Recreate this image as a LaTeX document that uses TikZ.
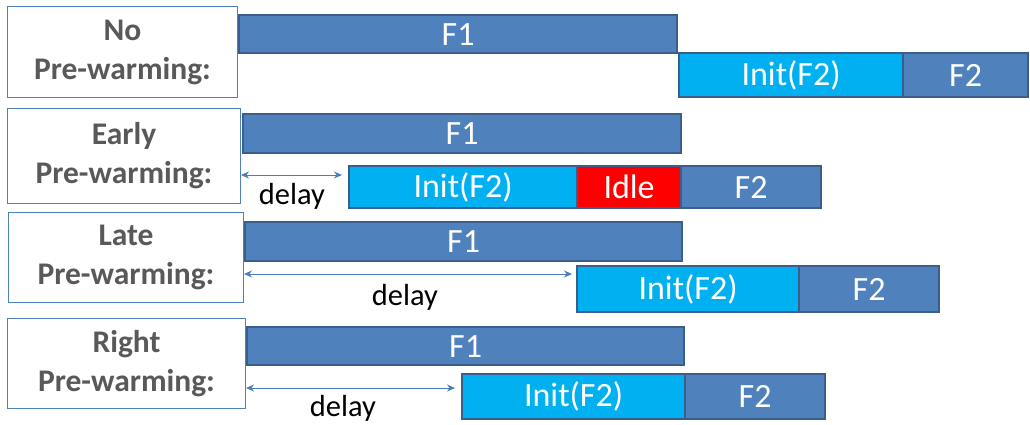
\documentclass[tikz,border=0pt]{standalone}
\usepackage{fontspec}
\setmainfont{Carlito}
\usetikzlibrary{arrows.meta}
\definecolor{barblue}{HTML}{4F81BD}
\definecolor{baredge}{HTML}{3A5F8B}
\definecolor{initcyan}{HTML}{00B0F0}
\definecolor{idlered}{HTML}{FF0000}
\definecolor{lblgray}{HTML}{595959}
\definecolor{lbledge}{HTML}{4F81BD}
\definecolor{arrblue}{HTML}{4A7EBB}
\tikzset{
  lbl/.style={draw=lbledge, line width=1pt, fill=white, anchor=north west, align=center,
    text=lblgray, font=\fontsize{31.5}{39}\selectfont\bfseries, inner sep=0pt},
  bar/.style={draw=baredge, line width=2.2pt, anchor=north west, text=white,
    font=\fontsize{34}{36}\selectfont, inner sep=0pt},
  f/.style={bar, fill=barblue},
  init/.style={bar, fill=initcyan},
  idle/.style={bar, fill=idlered},
  dly/.style={draw=arrblue, line width=0.9pt, {Stealth[length=8pt,width=7pt]}-{Stealth[length=8pt,width=7pt]}},
  dtext/.style={font=\fontsize{30.5}{33}\selectfont, text=black, inner sep=0pt}
}
\begin{document}
\begin{tikzpicture}[x=1pt,y=-1pt]
\useasboundingbox (0,0) rectangle (1030,424);
% Row 1
\node[lbl, minimum width=230pt, minimum height=91pt] (l1) at (7,6) {No\\Pre-warming:};
\node[f, minimum width=438pt, minimum height=38pt] (f1a) at (238,14) {F1};
\node[init, minimum width=224pt, minimum height=44pt] (i1) at (678,52) {Init(F2)};
\node[f, minimum width=125pt, minimum height=44pt] (f2a) at (902,52) {F2};
% Row 2
\node[lbl, minimum width=233pt, minimum height=95pt] (l2) at (7,108) {Early\\Pre-warming:};
\node[f, minimum width=438pt, minimum height=39pt] (f1b) at (242,113) {F1};
\node[init, minimum width=228pt, minimum height=42pt] (i2) at (348,165) {Init(F2)};
\node[idle, minimum width=104pt, minimum height=42pt] (d2) at (576,165) {Idle};
\node[f, minimum width=140pt, minimum height=42pt] (f2b) at (680,165) {F2};
\coordinate (a2) at (241,175);
\draw[dly, shorten >=6pt] (a2) -- (i2.west |- a2);
\node[dtext] (t2) at (292,196) {delay};
% Row 3
\node[lbl, minimum width=235pt, minimum height=90pt] (l3) at (8,212) {Late\\Pre-warming:};
\node[f, minimum width=437pt, minimum height=39pt] (f1c) at (244,221) {F1};
\node[init, minimum width=222pt, minimum height=46pt] (i3) at (576,265) {Init(F2)};
\node[f, minimum width=140pt, minimum height=46pt] (f2c) at (798,265) {F2};
\coordinate (a3) at (244,274);
\draw[dly, shorten >=4pt] (a3) -- (i3.west |- a3);
\node[dtext] (t3) at (405,297) {delay};
% Row 4
\node[lbl, minimum width=238pt, minimum height=90pt] (l4) at (7,318) {Right\\Pre-warming:};
\node[f, minimum width=437pt, minimum height=38pt] (f1d) at (246,326) {F1};
\node[init, minimum width=223pt, minimum height=45pt] (i4) at (461,373) {Init(F2)};
\node[f, minimum width=140pt, minimum height=45pt] (f2d) at (684,373) {F2};
\coordinate (a4) at (246,388);
\draw[dly, shorten >=6pt] (a4) -- (i4.west |- a4);
\node[dtext] (t4) at (343,408) {delay};
\end{tikzpicture}
\end{document}
